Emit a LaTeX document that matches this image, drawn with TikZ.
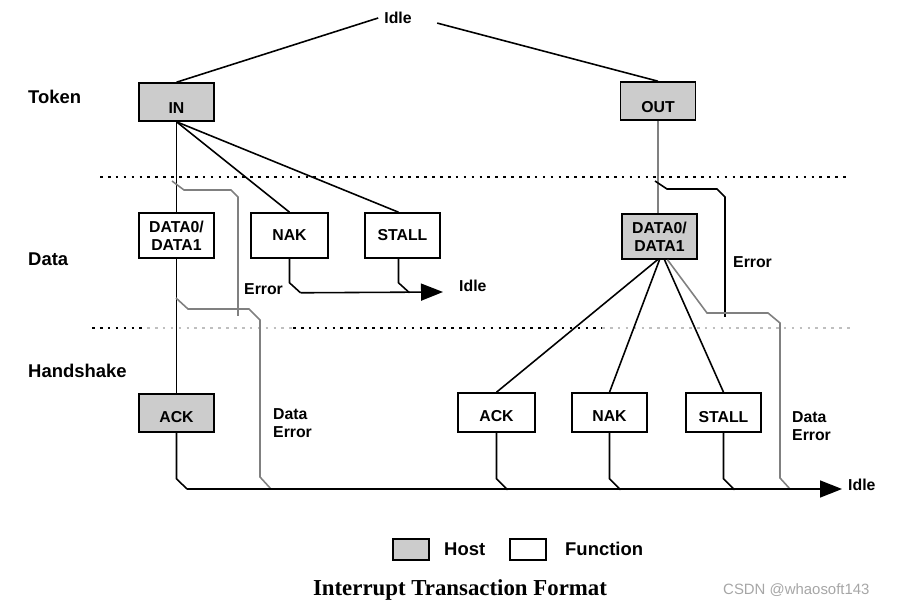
\documentclass[tikz,border=0pt]{standalone}
\usepackage{fontspec}
\setmainfont{Liberation Serif}
\setsansfont{Liberation Sans}
\usetikzlibrary{arrows.meta,calc}

\tikzset{
  box/.style={draw,line width=0.9pt,minimum width=1.5cm,align=center,inner sep=1pt,
    font=\sffamily\bfseries\fontsize{9}{10.5}\selectfont},
  hostbox/.style={box,fill=gray!40},
  funcbox/.style={box,fill=white},
  phase/.style={anchor=west,font=\sffamily\bfseries\fontsize{10.5}{12}\selectfont},
  lbl/.style={align=left,font=\sffamily\bfseries\fontsize{9}{10.5}\selectfont},
  wire/.style={line width=0.9pt},
  errwire/.style={line width=0.9pt,gray},
  bus/.style={line width=0.9pt,-{Triangle[length=0.44cm,width=0.34cm]}},
  sep/.style={line width=0.8pt,dash pattern=on 1.5pt off 3pt},
}

\begin{document}
\begin{tikzpicture}[x=0.02cm,y=-0.02cm]
      \useasboundingbox (0,0) rectangle (898,607);

      \node[phase] (token) at (22,97) {Token};
      \node[phase] (data) at (22,259) {Data};
      \node[phase] (hshake) at (22,371) {Handshake};

      \draw[sep] (100,177) -- (850,177);
      \draw[sep] (92,328) -- (147,328);
      \draw[sep,gray!50] (147,328) -- (293,328);
      \draw[sep] (293,328) -- (602,328);
      \draw[sep,gray!50] (602,328) -- (850,328);

      % token phase
      \node[lbl] (idle1) at (398,18) {Idle};
      \node[hostbox,minimum height=0.76cm,text height=13.5pt] (in) at (176.5,102) {IN};
      \node[hostbox,minimum height=0.76cm,text height=13.5pt] (out) at (658,101) {OUT};

      \draw[wire] (idle1.west) -- (in.north);
      \draw[wire,shorten <=0.4cm] (idle1.east) -- (out.north);

      % data phase
      \node[funcbox,minimum height=0.9cm] (dataA) at (176.5,235.5) {DATA0/\\DATA1};
      \node[funcbox,minimum height=0.9cm,minimum width=1.54cm] (nakA) at (289.5,235.5) {NAK};
      \node[funcbox,minimum height=0.9cm] (stallA) at (402.5,235.5) {STALL};
      \node[hostbox,minimum height=0.9cm] (dataB) at (659.5,236.5) {DATA0/\\DATA1};

      \draw[wire] (in.south) -- (dataA.north);
      \draw[wire] (in.south) -- (nakA.north);
      \draw[wire] (in.south) -- ($(stallA.north)+(-4,0)$);
      \draw[errwire] (out.south) -- (out.south |- dataB.north);

      \coordinate (tapA) at (172,181);
      \coordinate (errA) at (238,316);
      \draw[errwire] (tapA) -- ++(12,9) -- ++(47,0) -- ++(7,7) -- (errA);
      \node[lbl,anchor=west] (errlblA) at (238,289) {Error};

      \coordinate (tapC) at (655,181);
      \coordinate (errB) at (725,317);
      \draw[wire] (tapC) -- ++(12,8) -- ++(50,0) -- ++(8,8) -- (errB);
      \node[lbl,anchor=west] (errlblB) at (727,262) {Error};

      \node[lbl,anchor=west] (idle2) at (453,286) {Idle};
      \coordinate (idleA) at (443,292);
      \draw[wire] (nakA.south) -- ++(0,24) -- ++(11,10) coordinate (busB);
      \draw[wire] ($(stallA.south)+(-4,0)$) -- ++(0,24) -- ++(11,10);
      \draw[bus] (busB) -- (idleA);

      % handshake phase
      \node[hostbox,minimum height=0.76cm,text height=10.5pt] (ackA) at (176.5,413) {ACK};
      \node[funcbox,minimum height=0.78cm,minimum width=1.54cm,text height=10pt] (ackB) at (496.5,412.5) {ACK};
      \node[funcbox,minimum height=0.78cm,text height=10pt] (nakB) at (609.5,412.5) {NAK};
      \node[funcbox,minimum height=0.78cm,text height=11pt] (stallB) at (723.5,412.5) {STALL};

      \draw[wire] (dataA.south) -- (ackA.north);
      \coordinate (tapB) at (176,298);
      \draw[errwire] (tapB) -- ++(12,11) -- ++(61,0) -- ++(11,11) -- ++(0,157) -- ++(11,12);
      \node[lbl,anchor=west] (derrA) at (267,423) {Data\\Error};

      \draw[wire] ($(dataB.south)+(-2,0)$) -- (ackB.north);
      \draw[wire] (dataB.south) -- (nakB.north);
      \draw[wire] ($(dataB.south)+(5,0)$) -- (stallB.north);
      \draw[errwire] ($(dataB.south)+(8,0)$) -- (707,313) -- ++(61,0) -- ++(12,10) -- ++(0,155) -- ++(10,11);
      \node[lbl,anchor=west] (derrB) at (786,426) {Data\\Error};

      \node[lbl,anchor=west] (idle3) at (842,485) {Idle};
      \coordinate (busA) at (187,489);
      \draw[wire] (ackA.south) -- ++(0,46) -- (busA);
      \foreach \n in {ackB,nakB,stallB}
        \draw[wire] (\n.south) -- ++(0,46) -- ++(11,11);
      \draw[bus] (busA) -- (idle3.west |- busA);

      % key
      \node[hostbox,minimum width=0.72cm,minimum height=0.42cm] (hostkey) at (411,549.5) {};
      \node[phase] (hostlbl) at (438,549) {Host};
      \node[funcbox,minimum width=0.72cm,minimum height=0.42cm] (funckey) at (528,549.5) {};
      \node[phase] (funclbl) at (559,549) {Function};

      \node[font=\rmfamily\bfseries\fontsize{13}{15}\selectfont] (caption) at (460,590) {Interrupt Transaction Format};
      \node[anchor=west,text=gray!70,font=\sffamily\fontsize{8.5}{10}\selectfont] (mark) at (717,590) {CSDN @whaosoft143};

    \end{tikzpicture}
\end{document}
